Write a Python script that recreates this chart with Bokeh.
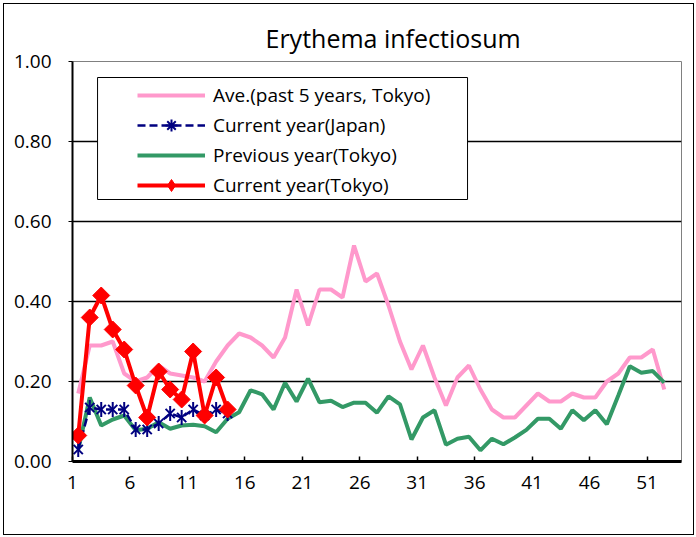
import math
from bokeh.plotting import figure
from bokeh.models import (Range1d, FixedTicker, Legend, LegendItem)
from bokeh.embed import file_html
from bokeh.resources import INLINE

# ---- data ----
title_text = "Erythema infectiosum"
weeks_full = list(range(1, 53))
weeks_cur = list(range(1, 15))
ave_past5_tokyo = [0.17, 0.29, 0.29, 0.30, 0.22, 0.20, 0.21, 0.24, 0.22, 0.215,
                   0.21, 0.20, 0.25, 0.29, 0.32, 0.31, 0.29, 0.26, 0.31, 0.43,
                   0.34, 0.43, 0.43, 0.41, 0.54, 0.45, 0.47, 0.39, 0.30, 0.23,
                   0.29, 0.21, 0.14, 0.21, 0.24, 0.18, 0.13, 0.11, 0.11, 0.14,
                   0.17, 0.15, 0.15, 0.17, 0.16, 0.16, 0.20, 0.22, 0.26, 0.26,
                   0.28, 0.18]
prev_year_tokyo = [0.03, 0.16, 0.09, 0.105, 0.115, 0.078, 0.082, 0.098, 0.082, 0.09,
                   0.092, 0.088, 0.073, 0.107, 0.123, 0.178, 0.168, 0.13, 0.197, 0.15,
                   0.207, 0.148, 0.152, 0.136, 0.147, 0.147, 0.122, 0.163, 0.143, 0.055,
                   0.11, 0.128, 0.042, 0.057, 0.062, 0.028, 0.057, 0.043, 0.06, 0.079,
                   0.107, 0.107, 0.082, 0.128, 0.103, 0.128, 0.093, 0.165, 0.238, 0.222,
                   0.226, 0.197]
cur_year_japan = [0.03, 0.135, 0.13, 0.13, 0.13, 0.08, 0.08, 0.095, 0.12, 0.11,
                  0.13, 0.115, 0.13, 0.12]
cur_year_tokyo = [0.065, 0.36, 0.415, 0.33, 0.28, 0.19, 0.11, 0.225, 0.18, 0.155,
                  0.275, 0.115, 0.21, 0.13]
series_names = ["Ave.(past 5 years, Tokyo)", "Current year(Japan)",
                "Previous year(Tokyo)", "Current year(Tokyo)"]
x_tick_labels = ["1", "6", "11", "16", "21", "26", "31", "36", "41", "46", "51"]
y_ticks = [0.0, 0.2, 0.4, 0.6, 0.8, 1.0]
y_tick_labels = ["0.00", "0.20", "0.40", "0.60", "0.80", "1.00"]

FONT = "Open Sans"
NAN = float("nan")

p = figure(frame_width=609, frame_height=400,
           min_border_left=68, min_border_right=12, min_border_top=57, min_border_bottom=73,
           x_range=Range1d(0.5, 53.5), y_range=Range1d(0, 1.0),
           output_backend="svg", toolbar_location=None)
p.styles = {"margin": "3px 0 0 3px", "border": "1px solid black"}
p.background_fill_color = "white"
p.border_fill_color = "white"
p.outline_line_color = "#808080"
p.outline_line_width = 1

# title
p.title.text = title_text
p.title.align = "left"
p.title.offset = 193
p.title.standoff = 14
p.title.text_font = FONT
p.title.text_font_size = "25px"
p.title.text_font_style = "normal"
p.title.text_color = "black"

# axes
x_tick_pos = [int(t) - 0.5 for t in x_tick_labels]
p.xaxis.ticker = FixedTicker(ticks=x_tick_pos)
p.xaxis.major_label_overrides = {pos: lab for pos, lab in zip(x_tick_pos, x_tick_labels)}
p.xaxis.minor_tick_line_color = None
p.xaxis.major_tick_in = 5
p.xaxis.major_tick_out = 0
p.xaxis.major_tick_line_color = "black"
p.xaxis.major_tick_line_width = 1.5
p.xaxis.axis_line_color = "black"
p.xaxis.axis_line_width = 3
p.xaxis.major_label_standoff = 14
p.xaxis.major_label_text_font = FONT
p.xaxis.major_label_text_font_size = "19px"
p.xaxis.major_label_text_color = "black"

p.yaxis.ticker = FixedTicker(ticks=y_ticks)
p.yaxis.major_label_overrides = {t: l for t, l in zip(y_ticks, y_tick_labels)}
p.yaxis.minor_tick_line_color = None
p.yaxis.major_tick_in = 0
p.yaxis.major_tick_out = 4
p.yaxis.major_tick_line_color = "black"
p.yaxis.axis_line_color = "black"
p.yaxis.axis_line_width = 2
p.yaxis.major_label_standoff = 17
p.yaxis.major_label_text_font = FONT
p.yaxis.major_label_text_font_size = "19px"
p.yaxis.major_label_text_color = "black"

p.xgrid.grid_line_color = None
p.ygrid.ticker = FixedTicker(ticks=y_ticks[1:-1])
p.ygrid.grid_line_color = "black"
p.ygrid.grid_line_width = 1.5

# legend frame (white box with black border behind the legend entries)
p.quad(left=[2.68], right=[34.88], top=[0.96], bottom=[0.655],
       fill_color="white", line_color="black", line_width=1)

# series
r_ave = p.line(weeks_full, ave_past5_tokyo, line_color="#FF99CC", line_width=4)
r_prev = p.line(weeks_full, prev_year_tokyo, line_color="#339966", line_width=4)
r_jp_line = p.line(weeks_cur, cur_year_japan, line_color="#000080", line_width=2.5, line_dash="8 4")
r_jp_x = p.scatter(weeks_cur, cur_year_japan, marker="x", size=13,
                   line_color="#000080", line_width=2)
r_jp_bar = p.scatter(weeks_cur, cur_year_japan, marker="dash", size=15, angle=math.pi / 2,
                     line_color="#000080", line_width=2)
r_tk_line = p.line(weeks_cur, cur_year_tokyo, line_color="#FF0000", line_width=4)
r_tk_mark = p.scatter(weeks_cur, cur_year_tokyo, marker="square", size=12, angle=math.pi / 4,
                      fill_color="#FF0000", line_color="#FF0000")

# legend-only marker samples (a single undefined point, never drawn in the plot)
lg_jp = p.scatter(x=[NAN], y=[NAN], marker="asterisk", size=12, line_color="#000080", line_width=2)
lg_tk = p.scatter(x=[NAN], y=[NAN], marker="diamond", size=15, fill_color="#FF0000", line_color="#FF0000")

legend = Legend(items=[
    LegendItem(label=series_names[0], renderers=[r_ave]),
    LegendItem(label=series_names[1], renderers=[r_jp_line, lg_jp]),
    LegendItem(label=series_names[2], renderers=[r_prev]),
    LegendItem(label=series_names[3], renderers=[r_tk_line, lg_tk]),
], location=(65, 261), glyph_width=68, glyph_height=30, label_height=30,
    label_standoff=8, spacing=0, padding=0, margin=0,
    border_line_alpha=0, background_fill_alpha=0,
    label_text_font=FONT, label_text_font_size="19px", label_text_color="black")
p.add_layout(legend)

open("out.html", "w").write(file_html(p, INLINE))
